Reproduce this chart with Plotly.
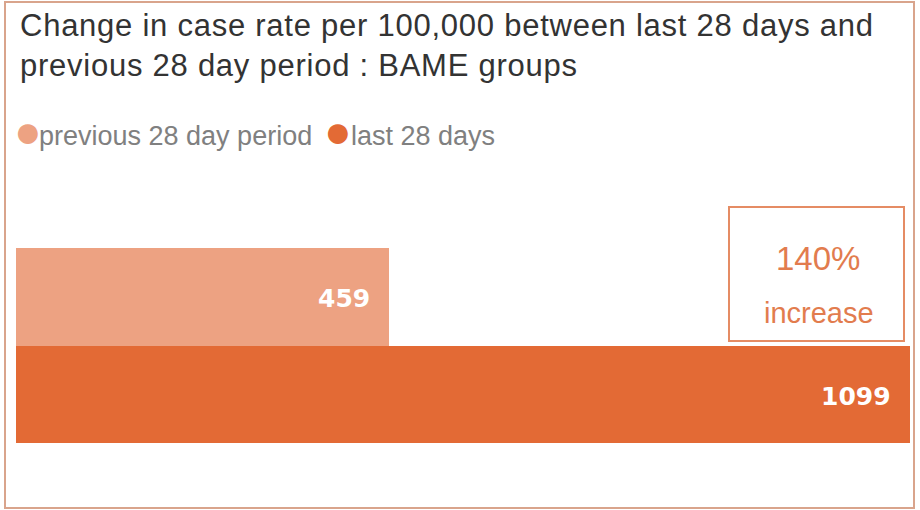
import plotly.graph_objects as go

categories = ["previous 28 day period", "last 28 days"]
values = [459, 1099]
colors = ["#EDA282", "#E36A35"]
title_lines = ["Change in case rate per 100,000 between last 28 days and",
               "previous 28 day period : BAME groups"]
change_pct = "140%"
change_word = "increase"

W, H = 920, 510
L, R, T, B = 16, 10, 248, 67
pw, ph = W - L - R, H - T - B

def px_x(x):
    return (x - L) / pw

def px_y(y):
    return (H - B - y) / ph

fig = go.Figure()
fig.add_trace(go.Bar(
    y=categories, x=values, orientation="h",
    marker=dict(color=colors, line=dict(width=0)),
    showlegend=False, hoverinfo="x+y",
))

annotations = []
for c, v in zip(categories, values):
    annotations.append(dict(
        x=v, y=c, xref="x", yref="y", text=f"<b>{v}</b>", showarrow=False,
        xanchor="right", yanchor="middle", xshift=-17, yshift=-2,
        font=dict(family="DejaVu Sans", size=25, color="white"),
    ))

# title
annotations.append(dict(
    x=px_x(18), y=px_y(6), xref="paper", yref="paper", xanchor="left", yanchor="top",
    showarrow=False, align="left",
    text="<span style='letter-spacing:0.75px'>" + "<br>".join(title_lines) + "</span>",
    font=dict(family="Liberation Sans, Arial", size=31, color="#333333"),
))

# legend: dots + labels
legend_dot_x = [28, 338]
legend_text_x = [37, 349]
for i in range(2):
    annotations.append(dict(
        x=px_x(legend_dot_x[i]), y=px_y(131), xref="paper", yref="paper",
        xanchor="center", yanchor="middle", showarrow=False, text="●",
        font=dict(family="Liberation Sans, Arial", size=46, color=colors[i]),
    ))
    annotations.append(dict(
        x=px_x(legend_text_x[i]), y=px_y(136), xref="paper", yref="paper",
        xanchor="left", yanchor="middle", showarrow=False, text=categories[i],
        font=dict(family="Liberation Sans, Arial", size=27, color="#808080"),
    ))

# increase box text
annotations.append(dict(
    x=px_x(818), y=px_y(258), xref="paper", yref="paper", xanchor="center", yanchor="middle",
    showarrow=False, text=change_pct,
    font=dict(family="Liberation Sans, Arial", size=33, color="#E27C4E"),
))
annotations.append(dict(
    x=px_x(819), y=px_y(313), xref="paper", yref="paper", xanchor="center", yanchor="middle",
    showarrow=False, text=change_word,
    font=dict(family="Liberation Sans, Arial", size=29, color="#E27C4E"),
))

fig.update_layout(
    width=W, height=H,
    margin=dict(l=L, r=R, t=T, b=B),
    paper_bgcolor="white", plot_bgcolor="white",
    bargap=0,
    xaxis=dict(range=[0, 1099], visible=False, fixedrange=True),
    yaxis=dict(visible=False, autorange="reversed", fixedrange=True),
    annotations=annotations,
    shapes=[
        dict(type="rect", xref="paper", yref="paper",
             x0=px_x(5), x1=px_x(914), y0=px_y(508), y1=px_y(2),
             line=dict(color="#D9A48C", width=2), fillcolor="rgba(0,0,0,0)", layer="below"),
        dict(type="rect", xref="paper", yref="paper",
             x0=px_x(729), x1=px_x(904), y0=px_y(341), y1=px_y(207),
             line=dict(color="#E58C64", width=2), fillcolor="rgba(0,0,0,0)"),
    ],
)

fig.write_html("out.html", config={"displayModeBar": False},
               post_script="document.body.style.margin='0px';")
